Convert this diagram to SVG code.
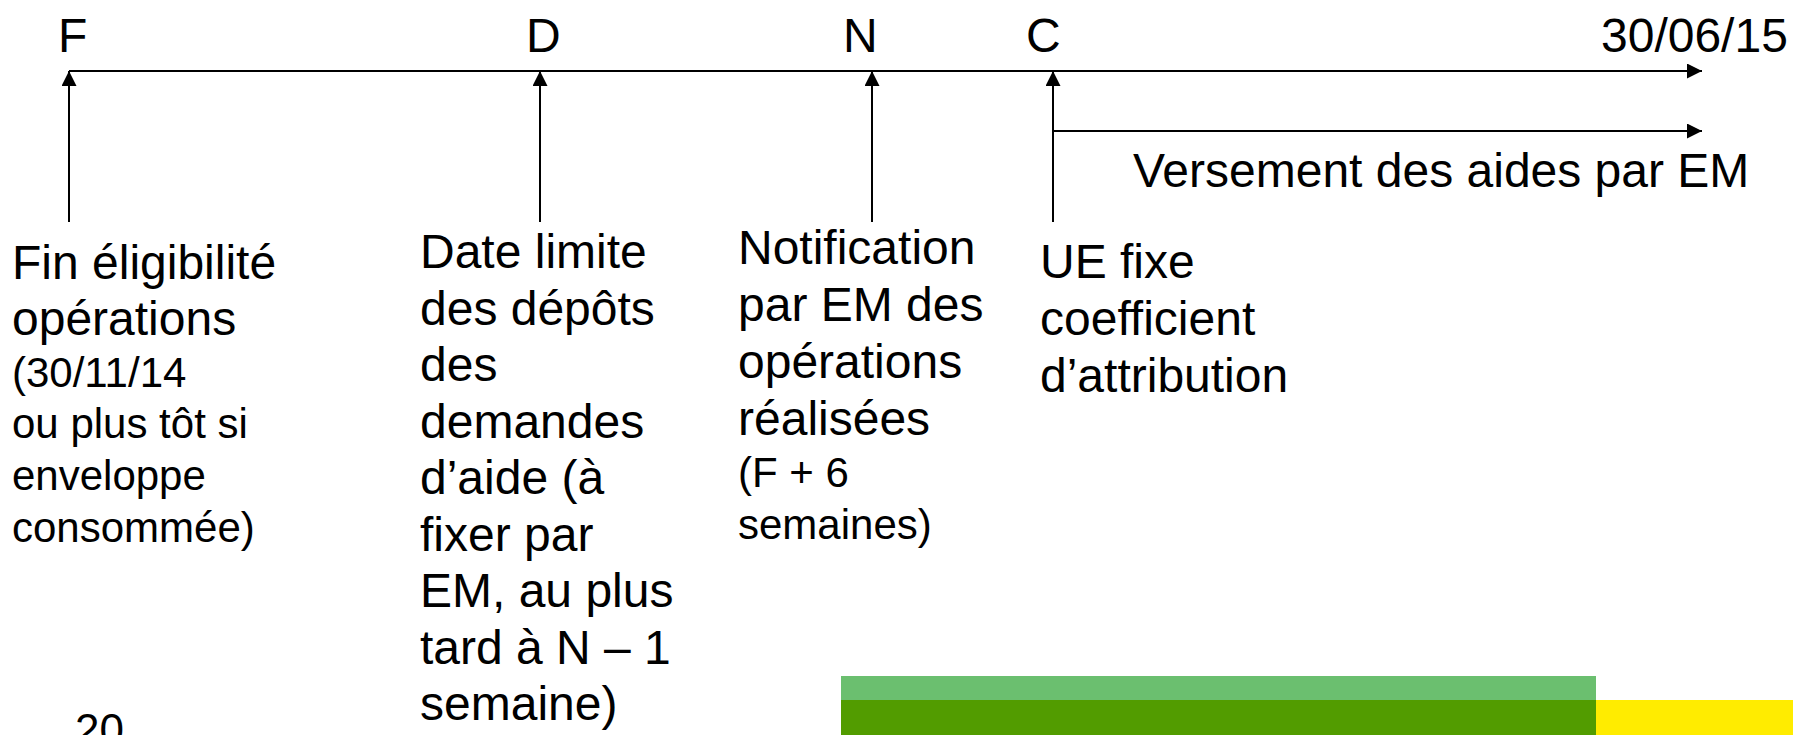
<svg xmlns="http://www.w3.org/2000/svg" width="1793" height="735" viewBox="0 0 1793 735">
<style>
text{font-family:"Liberation Sans",Arial,sans-serif;fill:#000}
.big{font-size:48px}
.small{font-size:42px}
.conn{stroke:#000;stroke-width:2;fill:none;marker-end:url(#ah)}
</style>
<defs>
<marker id="ah" markerUnits="userSpaceOnUse" markerWidth="16" markerHeight="16" refX="15" refY="7.5" orient="auto">
<path d="M0,0 L15,7.5 L0,15 Z" fill="#000"/>
</marker>
</defs>
<rect width="1793" height="735" fill="#fff"/>
<g id="connectors">
<line class="conn" x1="69" y1="71" x2="1702" y2="71"/>
<line class="conn" x1="1053" y1="131" x2="1702" y2="131"/>
<line class="conn" x1="69" y1="222" x2="69" y2="71"/>
<line class="conn" x1="540" y1="222" x2="540" y2="71"/>
<line class="conn" x1="872" y1="222" x2="872" y2="71"/>
<line class="conn" x1="1053" y1="222" x2="1053" y2="71"/>
</g>
<g id="marker-F"><text class="big" x="58" y="52">F</text></g>
<g id="marker-D"><text class="big" x="526" y="52">D</text></g>
<g id="marker-N"><text class="big" x="843" y="52">N</text></g>
<g id="marker-C"><text class="big" x="1026" y="52">C</text></g>
<g id="marker-end"><text class="big" x="1601" y="52">30/06/15</text></g>
<g id="versement"><text class="big" x="1133" y="187">Versement des aides par EM</text></g>
<g id="node-F">
<text class="big" x="12" y="279">Fin éligibilité</text>
<text class="big" x="12" y="335">opérations</text>
<text class="small" x="12" y="387">(30/11/14</text>
<text class="small" x="12" y="438">ou plus tôt si</text>
<text class="small" x="12" y="490">enveloppe</text>
<text class="small" x="12" y="542">consommée)</text>
</g>
<g id="node-D">
<text class="big" x="420" y="268">Date limite</text>
<text class="big" x="420" y="325">des dépôts</text>
<text class="big" x="420" y="381">des</text>
<text class="big" x="420" y="438">demandes</text>
<text class="big" x="420" y="494">d’aide (à</text>
<text class="big" x="420" y="551">fixer par</text>
<text class="big" x="420" y="607">EM, au plus</text>
<text class="big" x="420" y="664">tard à N – 1</text>
<text class="big" x="420" y="720">semaine)</text>
</g>
<g id="node-N">
<text class="big" x="738" y="264">Notification</text>
<text class="big" x="738" y="321">par EM des</text>
<text class="big" x="738" y="378">opérations</text>
<text class="big" x="738" y="435">réalisées</text>
<text class="small" x="738" y="487">(F + 6</text>
<text class="small" x="738" y="539">semaines)</text>
</g>
<g id="node-C">
<text class="big" x="1040" y="278">UE fixe</text>
<text class="big" x="1040" y="335">coefficient</text>
<text class="big" x="1040" y="392">d’attribution</text>
</g>
<g id="page-number"><text style="font-size:44px" x="75" y="745">20</text></g>
<g id="footer-band">
<rect x="841" y="676" width="755" height="24" fill="#6BBF6F"/>
<rect x="841" y="700" width="755" height="35" fill="#529C00"/>
<rect x="1596" y="700" width="197" height="35" fill="#FFEC00"/>
</g>
</svg>
